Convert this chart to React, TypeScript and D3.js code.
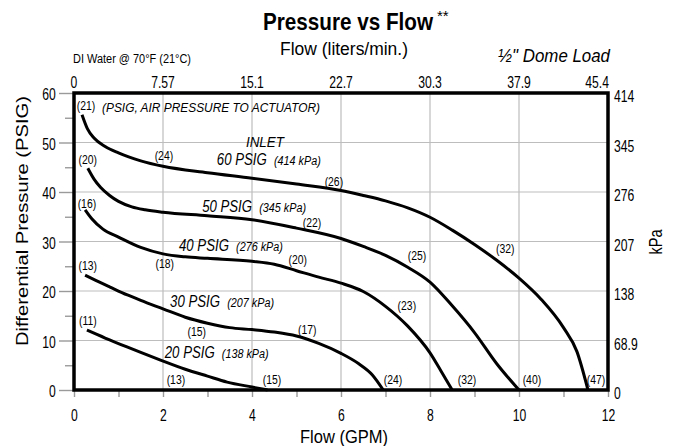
import React, { useEffect, useRef } from "react";
import * as d3 from "d3";

// данные: [расход GPM, давление PSIG]
const curve60: [number, number][] = [
	[0.18, 55.6], [0.3, 52.8], [0.45, 50.9], [0.7, 49.2], [1.0, 47.9], [1.5, 46.3],
	[2.0, 45.2], [3.0, 43.9], [4.0, 42.8], [5.0, 41.6], [6.0, 40.3], [6.5, 39.3],
	[7.0, 38.2], [7.5, 36.8], [8.0, 34.9], [8.5, 32.3], [9.0, 29.4], [9.5, 26.2],
	[10.0, 22.6], [10.5, 18.3], [11.0, 12.6], [11.3, 7.8], [11.55, 0],
];
const curve50: [number, number][] = [
	[0.31, 44.8], [0.45, 42.6], [0.6, 40.9], [0.8, 39.3], [1.0, 38.1], [1.3, 37.0],
	[1.6, 36.4], [2.0, 35.9], [3.0, 35.2], [4.0, 34.4], [5.0, 32.7], [6.0, 30.6],
	[6.5, 29.0], [7.0, 27.2], [7.5, 24.8], [8.0, 21.8], [8.5, 17.0], [9.0, 11.6],
	[9.5, 5.3], [10.0, 0],
];
const curve40: [number, number][] = [
	[0.25, 36.4], [0.4, 34.6], [0.65, 32.5], [1.0, 30.9], [1.5, 28.8], [2.0, 27.5],
	[2.5, 26.9], [3.0, 26.6], [4.0, 26.0], [4.5, 25.4], [5.0, 24.1], [5.5, 22.8],
	[6.0, 21.6], [6.5, 19.9], [7.0, 16.9], [7.5, 12.9], [8.0, 7.5], [8.25, 3.8],
	[8.5, 0],
];
const curve30: [number, number][] = [
	[0.25, 23.2], [0.5, 22.1], [0.81, 20.8], [1.2, 19.2], [1.5, 18.1], [2.0, 16.4],
	[2.5, 14.7], [3.0, 13.5], [3.5, 12.6], [4.0, 12.2], [4.5, 11.7], [5.0, 10.9],
	[5.5, 9.4], [6.0, 7.4], [6.4, 5.3], [6.7, 3.1], [6.95, 0],
];
const curve20: [number, number][] = [
	[0.29, 12.1], [0.7, 10.5], [1.19, 8.7], [1.5, 7.6], [1.93, 6.1], [2.5, 4.2],
	[3.0, 2.8], [3.44, 1.6], [4.0, 0.6], [4.35, 0],
];
const curves = [curve60, curve50, curve40, curve30, curve20];

// подписи расхода (л/мин) в скобках: [текст, GPM, PSIG]
const flowNotes: [string, number, number][] = [
	["(21)", 0.27, 57.4], ["(24)", 2.02, 47.3], ["(26)", 5.84, 42.2],
	["(20)", 0.31, 46.5], ["(22)", 5.35, 33.9],
	["(16)", 0.29, 37.6], ["(18)", 2.04, 25.5], ["(20)", 5.03, 26.3], ["(25)", 7.71, 27.1], ["(32)", 9.69, 28.5],
	["(13)", 0.31, 25.1], ["(15)", 2.76, 11.9], ["(17)", 5.24, 12.3], ["(23)", 7.48, 17.0],
	["(11)", 0.31, 14.1], ["(13)", 2.29, 2.2], ["(15)", 4.45, 2.2],
	["(24)", 7.17, 2.2], ["(32)", 8.83, 2.2], ["(40)", 10.29, 2.2], ["(47)", 11.73, 2.2],
];

// подписи кривых: [PSIG, kPa, GPM начала, PSIG базовой линии]
const inletLabels: [string, string, number, number][] = [
	["60 PSIG", "(414 kPa)", 3.21, 45.5],
	["50 PSIG", "(345 kPa)", 2.88, 36.0],
	["40 PSIG", "(276 kPa)", 2.36, 28.1],
	["30 PSIG", "(207 kPa)", 2.16, 16.8],
	["20 PSIG", "(138 kPa)", 2.04, 6.5],
];

const gpmTicks = [0, 2, 4, 6, 8, 10, 12];
const lpmLabels = ["0", "7.57", "15.1", "22.7", "30.3", "37.9", "45.4"];
const psigTicks = [0, 10, 20, 30, 40, 50, 60];
const kpaLabels = ["0", "68.9", "138", "207", "276", "345", "414"];

const FONT = "'Liberation Sans', Arial, sans-serif";
const SQ = 0.76; // сжатие шрифта по горизонтали (узкий гротеск)

type TOpts = { anchor?: string; italic?: boolean; bold?: boolean; width?: number; rotate?: number; sx?: number };

function addText(g: d3.Selection<any, any, any, any>, s: string, x: number, y: number, size: number, o: TOpts = {}) {
	const t = g
		.append("text")
		.attr("transform", `translate(${x},${y}) rotate(${o.rotate || 0}) scale(${o.sx || 1},1)`)
		.attr("text-anchor", o.anchor || "start")
		.attr("font-size", size)
		.text(s);
	if (o.italic) t.attr("font-style", "italic");
	if (o.bold) t.attr("font-weight", "bold");
	if (o.width) t.attr("textLength", o.width).attr("lengthAdjust", "spacingAndGlyphs");
	return t;
}

export default function App() {
	const svgRef = useRef<SVGSVGElement | null>(null);

	useEffect(() => {
		if (!svgRef.current) return;
		const svg = d3.select(svgRef.current);
		svg.selectAll("*").remove();
		svg.style("font-family", FONT);

		const left = 74, right = 608, top = 93, bottom = 390;
		const x = d3.scaleLinear().domain([0, 12]).range([left, right]);
		const y = d3.scaleLinear().domain([0, 60]).range([bottom, top]);

		// сетка
		const grid = svg.append("g").attr("stroke", "#bdbdbd").attr("stroke-width", 1.2);
		gpmTicks.slice(1, -1).forEach((v) => {
			grid.append("line").attr("x1", x(v)).attr("x2", x(v)).attr("y1", top).attr("y2", bottom);
		});
		psigTicks.slice(1, -1).forEach((v) => {
			grid.append("line").attr("x1", left).attr("x2", right).attr("y1", y(v)).attr("y2", y(v));
		});

		// нижняя ось
		const xAxis = svg
			.append("g")
			.attr("transform", `translate(0, ${bottom})`)
			.call(
				d3.axisBottom(x)
					.tickValues(d3.range(0, 13, 1))
					.tickSize(7)
					.tickPadding(13)
					.tickFormat((d) => (gpmTicks.includes(+d) ? String(d) : ""))
			);
		xAxis.select(".domain").remove();
		xAxis.selectAll("line").attr("stroke", "#9a9a9a").attr("stroke-width", 1.4);
		xAxis
			.selectAll("text")
			.attr("font-size", 16)
			.attr("font-family", FONT)
			.attr("fill", "#000")
			.attr("transform", `scale(${SQ},1)`);

		// левая ось
		const yAxis = svg
			.append("g")
			.attr("transform", `translate(${left}, 0)`)
			.call(
				d3.axisLeft(y)
					.tickValues(d3.range(0, 61, 5))
					.tickSize(0)
					.tickPadding(24)
					.tickFormat((d) => (psigTicks.includes(+d) ? String(d) : ""))
			);
		yAxis.select(".domain").remove();
		yAxis
			.selectAll("text")
			.attr("font-size", 16)
			.attr("font-family", FONT)
			.attr("fill", "#000")
			.attr("dy", "0.42em")
			.attr("transform", `scale(${SQ},1)`);
		yAxis
			.selectAll(".tick")
			.append("line")
			.attr("x1", (d) => (+(d as number) % 10 === 0 ? -15 : -9))
			.attr("x2", 0)
			.attr("stroke", "#9a9a9a")
			.attr("stroke-width", 1.4);

		// верхняя ось (л/мин)
		const topG = svg.append("g");
		gpmTicks.forEach((v, i) => {
			const last = i === gpmTicks.length - 1;
			addText(topG, lpmLabels[i], last ? x(v) + 1 : x(v), 88, 16, { anchor: last ? "end" : "middle", sx: SQ });
		});

		// правая ось (кПа)
		const rightG = svg.append("g");
		psigTicks.forEach((v, i) => {
			addText(rightG, kpaLabels[i], right + 6, y(v) + 9, 16, { sx: SQ });
		});

		// кривые
		const line = d3
			.line<[number, number]>()
			.x((d) => x(d[0]))
			.y((d) => y(d[1]))
			.curve(d3.curveMonotoneX);
		svg
			.append("g")
			.selectAll("path")
			.data(curves)
			.enter()
			.append("path")
			.attr("d", (d) => line(d) || "")
			.attr("fill", "none")
			.attr("stroke", "#000")
			.attr("stroke-width", 3);

		// рамка
		svg
			.append("rect")
			.attr("x", left)
			.attr("y", top)
			.attr("width", right - left)
			.attr("height", bottom - top)
			.attr("fill", "none")
			.attr("stroke", "#000")
			.attr("stroke-width", 3.5);

		// подписи в скобках
		const notes = svg.append("g");
		flowNotes.forEach((d) => {
			addText(notes, d[0], x(d[1]), y(d[2]) + 4.5, 13, { anchor: "middle", sx: 0.8 });
		});

		// подписи кривых
		const lblG = svg.append("g");
		inletLabels.forEach((d) => {
			const t = lblG
				.append("text")
				.attr("transform", `translate(${x(d[2])},${y(d[3])}) scale(0.8,1)`)
				.attr("font-style", "italic");
			t.append("tspan").attr("font-size", 16.5).text(d[0]);
			t.append("tspan").attr("font-size", 13.5).attr("dx", 9).text(d[1]);
		});

		addText(svg, "INLET", x(4.29), y(49.1), 15, { anchor: "middle", italic: true, width: 38 });
		addText(svg, "(PSIG, AIR PRESSURE TO ACTUATOR)", x(0.63), y(56.2), 13, { italic: true, width: 218 });

		// заголовки
		addText(svg, "Pressure vs Flow", 348, 30, 24, { anchor: "middle", bold: true, width: 170 });
		addText(svg, "**", 437, 21, 15);
		addText(svg, "Flow (liters/min.)", 344, 55, 18, { anchor: "middle", width: 128 });
		addText(svg, "DI Water @ 70°F (21°C)", 73, 63, 12.5, { width: 118 });
		addText(svg, "½\" Dome Load", 498, 62, 17.5, { italic: true, width: 112 });
		addText(svg, "Flow (GPM)", 344, 443, 18, { anchor: "middle", width: 88 });
		addText(svg, "Differential Pressure (PSIG)", 28, 221, 16.5, { anchor: "middle", rotate: -90, width: 250 });
		addText(svg, "kPa", 662, 242, 19, { anchor: "middle", rotate: -90, width: 25 });
	}, []);

	return (
		<svg
			ref={svgRef}
			width={674}
			height={446}
			style={{ position: "absolute", left: 0, top: 0, background: "#fff" }}
		></svg>
	);
}
